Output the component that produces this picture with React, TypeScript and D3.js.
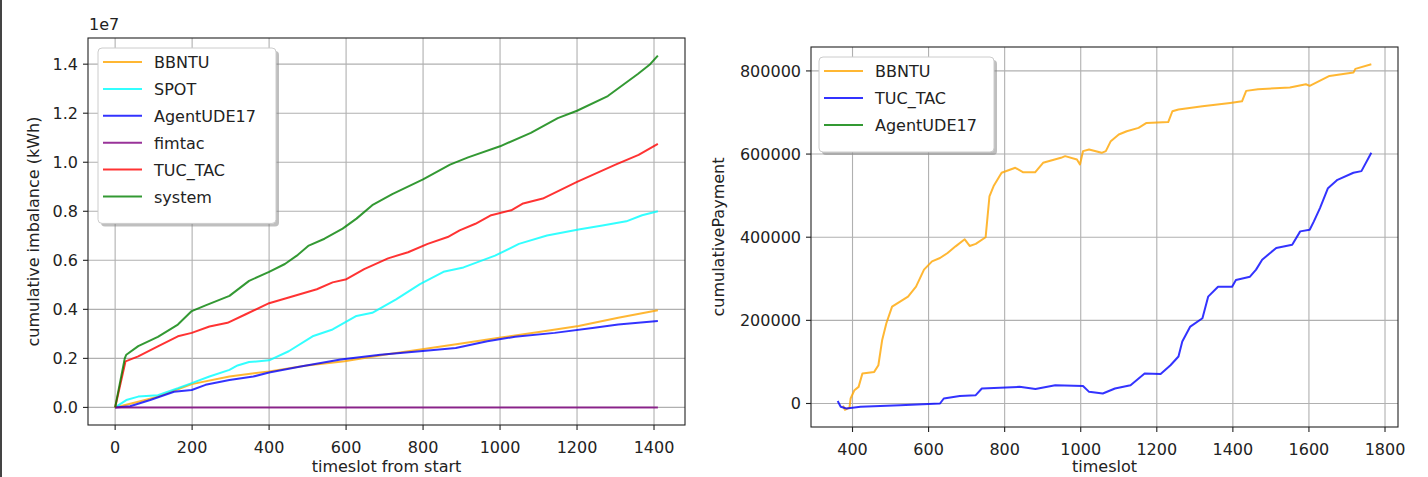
import React, { useEffect, useRef } from 'react';
import * as d3 from 'd3';

const W = 1428;
const H = 477;
const FONT = '"DejaVu Sans", sans-serif';

// ---- left panel: cumulative imbalance (kWh) vs timeslot from start ----
const bbntuImbalance: [number, number][] = [
  [0, 0], [60, 0.23e6], [111, 0.44e6], [163, 0.74e6], [199, 0.95e6], [297, 1.26e6],
  [400, 1.47e6], [498, 1.71e6], [596, 1.88e6], [699, 2.15e6], [802, 2.38e6],
  [895, 2.6e6], [998, 2.84e6], [1101, 3.08e6], [1204, 3.32e6], [1307, 3.66e6], [1410, 3.96e6],
];
const spotImbalance: [number, number][] = [
  [0, 0], [29, 0.3e6], [60, 0.44e6], [111, 0.5e6], [163, 0.78e6], [199, 0.99e6],
  [245, 1.26e6], [297, 1.53e6], [318, 1.71e6], [348, 1.85e6], [400, 1.92e6],
  [451, 2.29e6], [513, 2.9e6], [565, 3.18e6], [627, 3.73e6], [668, 3.86e6],
  [730, 4.41e6], [792, 5.03e6], [853, 5.53e6], [905, 5.71e6], [987, 6.19e6],
  [1049, 6.67e6], [1122, 7.01e6], [1204, 7.26e6], [1266, 7.42e6], [1328, 7.59e6],
  [1369, 7.84e6], [1410, 8.0e6],
];
const agentUdeImbalance: [number, number][] = [
  [0, 0], [39, 0.05e6], [91, 0.3e6], [153, 0.64e6], [199, 0.71e6], [235, 0.92e6],
  [297, 1.12e6], [359, 1.26e6], [400, 1.42e6], [482, 1.67e6], [586, 1.95e6],
  [689, 2.15e6], [792, 2.29e6], [885, 2.42e6], [967, 2.7e6], [1039, 2.88e6],
  [1142, 3.04e6], [1245, 3.25e6], [1307, 3.38e6], [1410, 3.52e6],
];
const fimtacImbalance: [number, number][] = [[0, 0], [700, 0], [1410, 0]];
const tucTacImbalance: [number, number][] = [
  [0, 0], [27, 1.88e6], [60, 2.08e6], [111, 2.49e6], [163, 2.9e6], [199, 3.04e6],
  [245, 3.3e6], [292, 3.45e6], [338, 3.79e6], [400, 4.25e6], [451, 4.48e6],
  [524, 4.82e6], [565, 5.1e6], [601, 5.23e6], [647, 5.64e6], [709, 6.08e6],
  [761, 6.33e6], [812, 6.67e6], [864, 6.95e6], [895, 7.22e6], [936, 7.49e6],
  [977, 7.84e6], [1029, 8.04e6], [1060, 8.32e6], [1111, 8.52e6], [1200, 9.2e6],
  [1300, 9.9e6], [1360, 10.3e6], [1410, 10.75e6],
];
const systemImbalance: [number, number][] = [
  [0, 0], [25, 2.0e6], [29, 2.15e6], [60, 2.5e6], [111, 2.88e6], [163, 3.38e6],
  [199, 3.93e6], [235, 4.16e6], [297, 4.55e6], [348, 5.16e6], [400, 5.53e6],
  [441, 5.85e6], [472, 6.19e6], [503, 6.6e6], [544, 6.88e6], [591, 7.29e6],
  [627, 7.7e6], [668, 8.25e6], [720, 8.7e6], [800, 9.3e6], [870, 9.9e6],
  [917, 10.2e6], [1000, 10.65e6], [1080, 11.2e6], [1150, 11.8e6], [1200, 12.1e6],
  [1280, 12.7e6], [1358, 13.6e6], [1390, 14.0e6], [1410, 14.35e6],
];
const imbalanceTicksX = [0, 200, 400, 600, 800, 1000, 1200, 1400];
const imbalanceTicksY = [0, 0.2e7, 0.4e7, 0.6e7, 0.8e7, 1.0e7, 1.2e7, 1.4e7];

// ---- right panel: cumulativePayment vs timeslot ----
const bbntuPayment: [number, number][] = [
  [375, -5000], [380, -15000], [392, -10000], [395, 12000], [405, 32000], [416, 40000],
  [426, 72000], [457, 76000], [468, 92000], [478, 153000], [489, 193000], [504, 233000],
  [525, 245000], [546, 257000], [567, 281000], [588, 322000], [609, 342000],
  [630, 350000], [650, 362000], [671, 378000], [695, 395000], [708, 379000],
  [724, 384000], [750, 400000], [760, 498000], [771, 523000], [792, 555000],
  [828, 567000], [849, 556000], [880, 556000], [901, 579000], [948, 591000],
  [959, 595000], [990, 587000], [998, 575000], [1006, 607000], [1022, 611000],
  [1055, 603000], [1066, 607000], [1079, 631000], [1100, 647000], [1121, 655000],
  [1152, 663000], [1173, 675000], [1230, 677000], [1241, 703000], [1257, 707000],
  [1320, 715000], [1393, 723000], [1424, 727000], [1435, 752000], [1466, 756000],
  [1550, 760000], [1592, 768000], [1602, 764000], [1654, 788000], [1717, 796000],
  [1722, 805000], [1764, 816000],
];
const tucTacPayment: [number, number][] = [
  [361, 6000], [369, -8000], [384, -12000], [421, -8000], [525, -4000], [630, 0],
  [640, 12000], [682, 18000], [724, 20000], [740, 36000], [839, 40000], [881, 35000],
  [933, 44000], [1006, 42000], [1022, 28000], [1058, 24000], [1090, 36000],
  [1131, 44000], [1168, 72000], [1210, 71000], [1236, 92000], [1257, 113000],
  [1267, 149000], [1288, 185000], [1320, 205000], [1335, 257000], [1361, 281000],
  [1398, 281000], [1408, 297000], [1445, 305000], [1461, 322000], [1477, 346000],
  [1514, 374000], [1556, 382000], [1577, 414000], [1602, 418000], [1613, 438000],
  [1629, 470000], [1650, 518000], [1675, 538000], [1717, 555000], [1738, 559000],
  [1764, 603000],
];
const agentUdePayment: [number, number][] = [];
const paymentTicksX = [400, 600, 800, 1000, 1200, 1400, 1600, 1800];
const paymentTicksY = [0, 200000, 400000, 600000, 800000];

type Series = { name: string; color: string; points: [number, number][] };

const imbalanceSeries: Series[] = [
  { name: 'BBNTU', color: 'orange', points: bbntuImbalance },
  { name: 'SPOT', color: 'cyan', points: spotImbalance },
  { name: 'AgentUDE17', color: 'blue', points: agentUdeImbalance },
  { name: 'fimtac', color: 'purple', points: fimtacImbalance },
  { name: 'TUC_TAC', color: 'red', points: tucTacImbalance },
  { name: 'system', color: 'green', points: systemImbalance },
];
const paymentSeries: Series[] = [
  { name: 'BBNTU', color: 'orange', points: bbntuPayment },
  { name: 'TUC_TAC', color: 'blue', points: tucTacPayment },
  { name: 'AgentUDE17', color: 'green', points: agentUdePayment },
];

// matplotlib style 5% margins around the data
function padded(vals: number[]): [number, number] {
  const [lo, hi] = d3.extent(vals) as [number, number];
  const m = (hi - lo) * 0.05;
  return [lo - m, hi + m];
}

function drawPanel(svg: any, id: string, cfg: any) {
  const { box, series, ticksX, ticksY, fmtY, xLabel, yLabel, yLabelX, legend, offsetText } = cfg;
  const all = series.flatMap((s: Series) => s.points);
  const x = d3.scaleLinear().domain(padded(all.map((p: any) => p[0]))).range([box.left, box.right]);
  const y = d3.scaleLinear().domain(padded(all.map((p: any) => p[1]))).range([box.bottom, box.top]);

  const g = svg.append('g');
  g.append('clipPath').attr('id', id).append('rect')
    .attr('x', box.left).attr('y', box.top)
    .attr('width', box.right - box.left).attr('height', box.bottom - box.top);

  // grid
  g.selectAll('.gx').data(ticksX).enter().append('line')
    .attr('x1', (d: number) => x(d)).attr('x2', (d: number) => x(d))
    .attr('y1', box.top).attr('y2', box.bottom)
    .attr('stroke', '#b0b0b0').attr('stroke-width', 1.1);
  g.selectAll('.gy').data(ticksY).enter().append('line')
    .attr('y1', (d: number) => y(d)).attr('y2', (d: number) => y(d))
    .attr('x1', box.left).attr('x2', box.right)
    .attr('stroke', '#b0b0b0').attr('stroke-width', 1.1);

  const line = d3.line<[number, number]>().x(d => x(d[0])).y(d => y(d[1]));
  g.append('g').attr('clip-path', `url(#${id})`)
    .selectAll('path').data(series.filter((s: Series) => s.points.length)).enter().append('path')
    .attr('d', (s: Series) => line(s.points))
    .attr('fill', 'none')
    .attr('stroke', (s: Series) => s.color)
    .attr('stroke-opacity', 0.8)
    .attr('stroke-width', 2)
    .attr('stroke-linejoin', 'round');

  // spines
  g.append('rect')
    .attr('x', box.left).attr('y', box.top)
    .attr('width', box.right - box.left).attr('height', box.bottom - box.top)
    .attr('fill', 'none').attr('stroke', '#222').attr('stroke-width', 1.1);

  // ticks + labels
  g.selectAll('.tx').data(ticksX).enter().append('line')
    .attr('x1', (d: number) => x(d)).attr('x2', (d: number) => x(d))
    .attr('y1', box.bottom).attr('y2', box.bottom + 5)
    .attr('stroke', '#222').attr('stroke-width', 1.1);
  g.selectAll('.lx').data(ticksX).enter().append('text')
    .attr('x', (d: number) => x(d)).attr('y', box.bottom + 28)
    .attr('text-anchor', 'middle')
    .text((d: number) => String(d));
  g.selectAll('.ty').data(ticksY).enter().append('line')
    .attr('y1', (d: number) => y(d)).attr('y2', (d: number) => y(d))
    .attr('x1', box.left - 5).attr('x2', box.left)
    .attr('stroke', '#222').attr('stroke-width', 1.1);
  g.selectAll('.ly').data(ticksY).enter().append('text')
    .attr('x', box.left - 10).attr('y', (d: number) => y(d) + 6)
    .attr('text-anchor', 'end')
    .text(fmtY);

  if (offsetText) {
    g.append('text').attr('x', box.left + 1).attr('y', box.top - 8).text(offsetText);
  }

  g.append('text')
    .attr('x', (box.left + box.right) / 2).attr('y', 472)
    .attr('text-anchor', 'middle').text(xLabel);
  g.append('text')
    .attr('transform', `translate(${yLabelX},${(box.top + box.bottom) / 2}) rotate(-90)`)
    .attr('text-anchor', 'middle').text(yLabel);

  // legend with shadow
  const lg = g.append('g').attr('transform', `translate(${legend.x},${legend.y})`);
  const lh = 14 + series.length * legend.row;
  lg.append('rect').attr('x', 3).attr('y', 3).attr('width', legend.w).attr('height', lh)
    .attr('rx', 4).attr('fill', 'gray').attr('fill-opacity', 0.5);
  lg.append('rect').attr('width', legend.w).attr('height', lh)
    .attr('rx', 4).attr('fill', 'white').attr('stroke', '#cccccc').attr('stroke-width', 1);
  const item = lg.selectAll('.item').data(series).enter().append('g')
    .attr('transform', (_: any, i: number) => `translate(0,${14 + i * legend.row})`);
  item.append('line')
    .attr('x1', 5).attr('x2', 44).attr('y1', 0).attr('y2', 0)
    .attr('stroke', (s: Series) => s.color).attr('stroke-opacity', 0.8).attr('stroke-width', 2);
  item.append('text').attr('x', 56).attr('y', 6).text((s: Series) => s.name);
}

export default function App() {
  const ref = useRef<SVGSVGElement>(null);

  useEffect(() => {
    const svg = d3.select(ref.current);
    svg.selectAll('*').remove();
    svg.append('rect').attr('width', W).attr('height', H).attr('fill', 'white');
    // dark strip at the left edge of the screenshot
    svg.append('rect').attr('x', 0).attr('width', 2).attr('height', H).attr('fill', '#444');

    drawPanel(svg, 'clipLeft', {
      box: { left: 88, right: 685, top: 38, bottom: 425 },
      series: imbalanceSeries,
      ticksX: imbalanceTicksX,
      ticksY: imbalanceTicksY,
      fmtY: (d: number) => (d / 1e7).toFixed(1),
      xLabel: 'timeslot from start',
      yLabel: 'cumulative imbalance (kWh)',
      yLabelX: 39,
      legend: { x: 98, y: 48, w: 178, row: 26.9 },
      offsetText: '1e7',
    });
    drawPanel(svg, 'clipRight', {
      box: { left: 811, right: 1398, top: 47, bottom: 427 },
      series: paymentSeries,
      ticksX: paymentTicksX,
      ticksY: paymentTicksY,
      fmtY: (d: number) => String(d),
      xLabel: 'timeslot',
      yLabel: 'cumulativePayment',
      yLabelX: 724,
      legend: { x: 819, y: 57, w: 175, row: 27 },
      offsetText: null,
    });
  }, []);

  return (
    <svg
      ref={ref}
      width={W}
      height={H}
      style={{ position: 'absolute', left: 0, top: 0, fontFamily: FONT, fontSize: 16, fill: '#222' }}
    />
  );
}
